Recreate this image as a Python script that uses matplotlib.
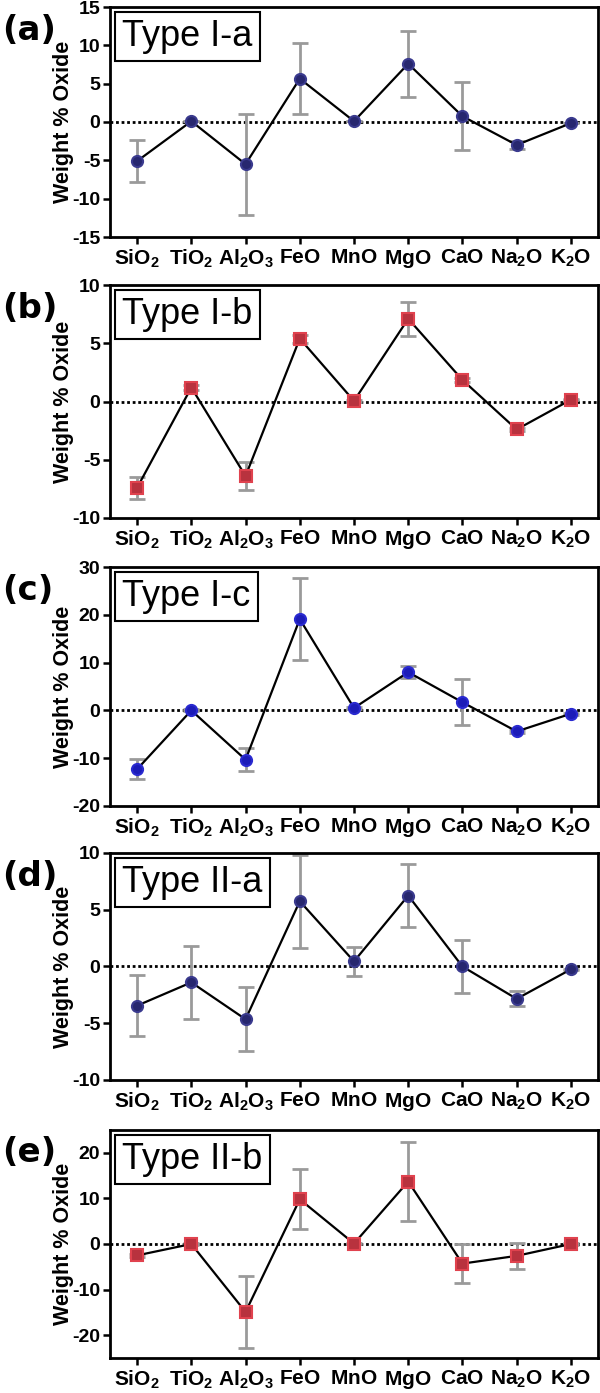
import matplotlib
matplotlib.use("Agg")
import matplotlib.pyplot as plt
import numpy as np

plt.rcParams['font.family'] = ['Liberation Sans', 'DejaVu Sans']
plt.rcParams['mathtext.fontset'] = 'custom'
plt.rcParams['mathtext.rm'] = 'Liberation Sans'
plt.rcParams['mathtext.bf'] = 'Liberation Sans:bold'
plt.rcParams['mathtext.it'] = 'Liberation Sans:italic'

# ---- data ----
oxides = ['SiO2', 'TiO2', 'Al2O3', 'FeO', 'MnO', 'MgO', 'CaO', 'Na2O', 'K2O']
tick_labels = [r'$\mathbf{SiO}_{\mathbf{2}}$', r'$\mathbf{TiO}_{\mathbf{2}}$',
               r'$\mathbf{Al}_{\mathbf{2}}\mathbf{O}_{\mathbf{3}}$', r'$\mathbf{FeO}$',
               r'$\mathbf{MnO}$', r'$\mathbf{MgO}$', r'$\mathbf{CaO}$',
               r'$\mathbf{Na}_{\mathbf{2}}\mathbf{O}$', r'$\mathbf{K}_{\mathbf{2}}\mathbf{O}$']

panel_letters = ['(a)', '(b)', '(c)', '(d)', '(e)']
panel_names = ['Type I-a', 'Type I-b', 'Type I-c', 'Type II-a', 'Type II-b']

typeIa_mean = [-5.1, 0.1, -5.5, 5.65, 0.1, 7.6, 0.75, -3.0, -0.15]
typeIa_err = [2.7, 0.0, 6.6, 4.6, 0.0, 4.3, 4.45, 0.55, 0.0]
typeIb_mean = [-7.4, 1.2, -6.4, 5.4, 0.05, 7.1, 1.85, -2.4, 0.15]
typeIb_err = [0.95, 0.2, 1.2, 0.35, 0.1, 1.45, 0.15, 0.15, 0.05]
typeIc_mean = [-12.3, 0.0, -10.3, 19.1, 0.5, 8.0, 1.7, -4.4, -0.7]
typeIc_err = [2.1, 0.2, 2.45, 8.6, 0.3, 1.2, 4.85, 0.3, 0.2]
typeIIa_mean = [-3.45, -1.4, -4.65, 5.75, 0.45, 6.25, 0.0, -2.85, -0.25]
typeIIa_err = [2.7, 3.25, 2.8, 4.1, 1.25, 2.75, 2.35, 0.65, 0.05]
typeIIb_mean = [-2.5, 0.0, -14.9, 9.8, 0.1, 13.7, -4.3, -2.6, 0.0]
typeIIb_err = [0.3, 0.2, 7.9, 6.55, 0.2, 8.6, 4.3, 2.9, 0.2]

means = [typeIa_mean, typeIb_mean, typeIc_mean, typeIIa_mean, typeIIb_mean]
errs = [typeIa_err, typeIb_err, typeIc_err, typeIIa_err, typeIIb_err]

y_limits = [(-15, 15), (-10, 10), (-20, 30), (-10, 10), (-25, 25)]
y_ticks = [np.arange(-15, 16, 5), np.arange(-10, 11, 5), np.arange(-20, 31, 10),
           np.arange(-10, 11, 5), np.arange(-20, 21, 10)]

# ---- styling ----
markers = ['o', 's', 'o', 'o', 's']
face_cols = ['#27276f', '#b8323e', '#1c1cb8', '#27276f', '#b8323e']
edge_cols = ['#3a3a8e', '#e0424e', '#2a2ad0', '#3a3a8e', '#e0424e']

W, H = 600, 1393
fig = plt.figure(figsize=(W / 100, H / 100), dpi=100)

left_px, right_px = 110, 598
tops_px = [7, 285, 567, 853, 1130]
bottoms_px = [237, 518, 806, 1080, 1358]

x = np.arange(len(oxides))
for i in range(5):
    t, b = tops_px[i], bottoms_px[i]
    ax = fig.add_axes([left_px / W, 1 - b / H, (right_px - left_px) / W, (b - t) / H])
    ax.axhline(0, color='black', lw=2.0, ls=(0, (1, 1)), zorder=1)
    ax.errorbar(x, means[i], yerr=errs[i], fmt='none', ecolor='#9a9a9a',
                elinewidth=2.0, capsize=5.5, capthick=2.0, zorder=2)
    ax.plot(x, means[i], color='black', lw=1.6, zorder=3)
    ax.plot(x, means[i], ls='none', marker=markers[i], ms=8,
            mfc=face_cols[i], mec=edge_cols[i], mew=1.5, zorder=4)
    ax.set_xlim(-0.5, len(oxides) - 0.5)
    ax.set_ylim(*y_limits[i])
    ax.set_yticks(y_ticks[i])
    ax.set_yticklabels([str(v) for v in y_ticks[i]], fontweight='bold', fontsize=14)
    ax.set_xticks(x)
    ax.set_xticklabels(tick_labels, fontsize=15)
    for s in ax.spines.values():
        s.set_linewidth(2.0)
    ax.tick_params(axis='both', direction='out', length=5, width=1.8, pad=2.0)
    ax.tick_params(axis='x', pad=3.0)
    ax.set_ylabel('Weight % Oxide', fontsize=15.5, fontweight='bold')
    ax.yaxis.set_label_coords(-0.074, 0.5)
    ax.annotate(panel_names[i], xy=(0, 1), xycoords='axes fraction',
                xytext=(8.8, -8.8), textcoords='offset points',
                ha='left', va='top', fontsize=26,
                bbox=dict(boxstyle='square,pad=0.2', fc='white', ec='black', lw=1.5))
    fig.text(0.003, 1 - (t + 23) / H, panel_letters[i], fontsize=24.5,
             fontweight='bold', family='DejaVu Sans', ha='left', va='center')

fig.savefig('out.png', dpi=100)
